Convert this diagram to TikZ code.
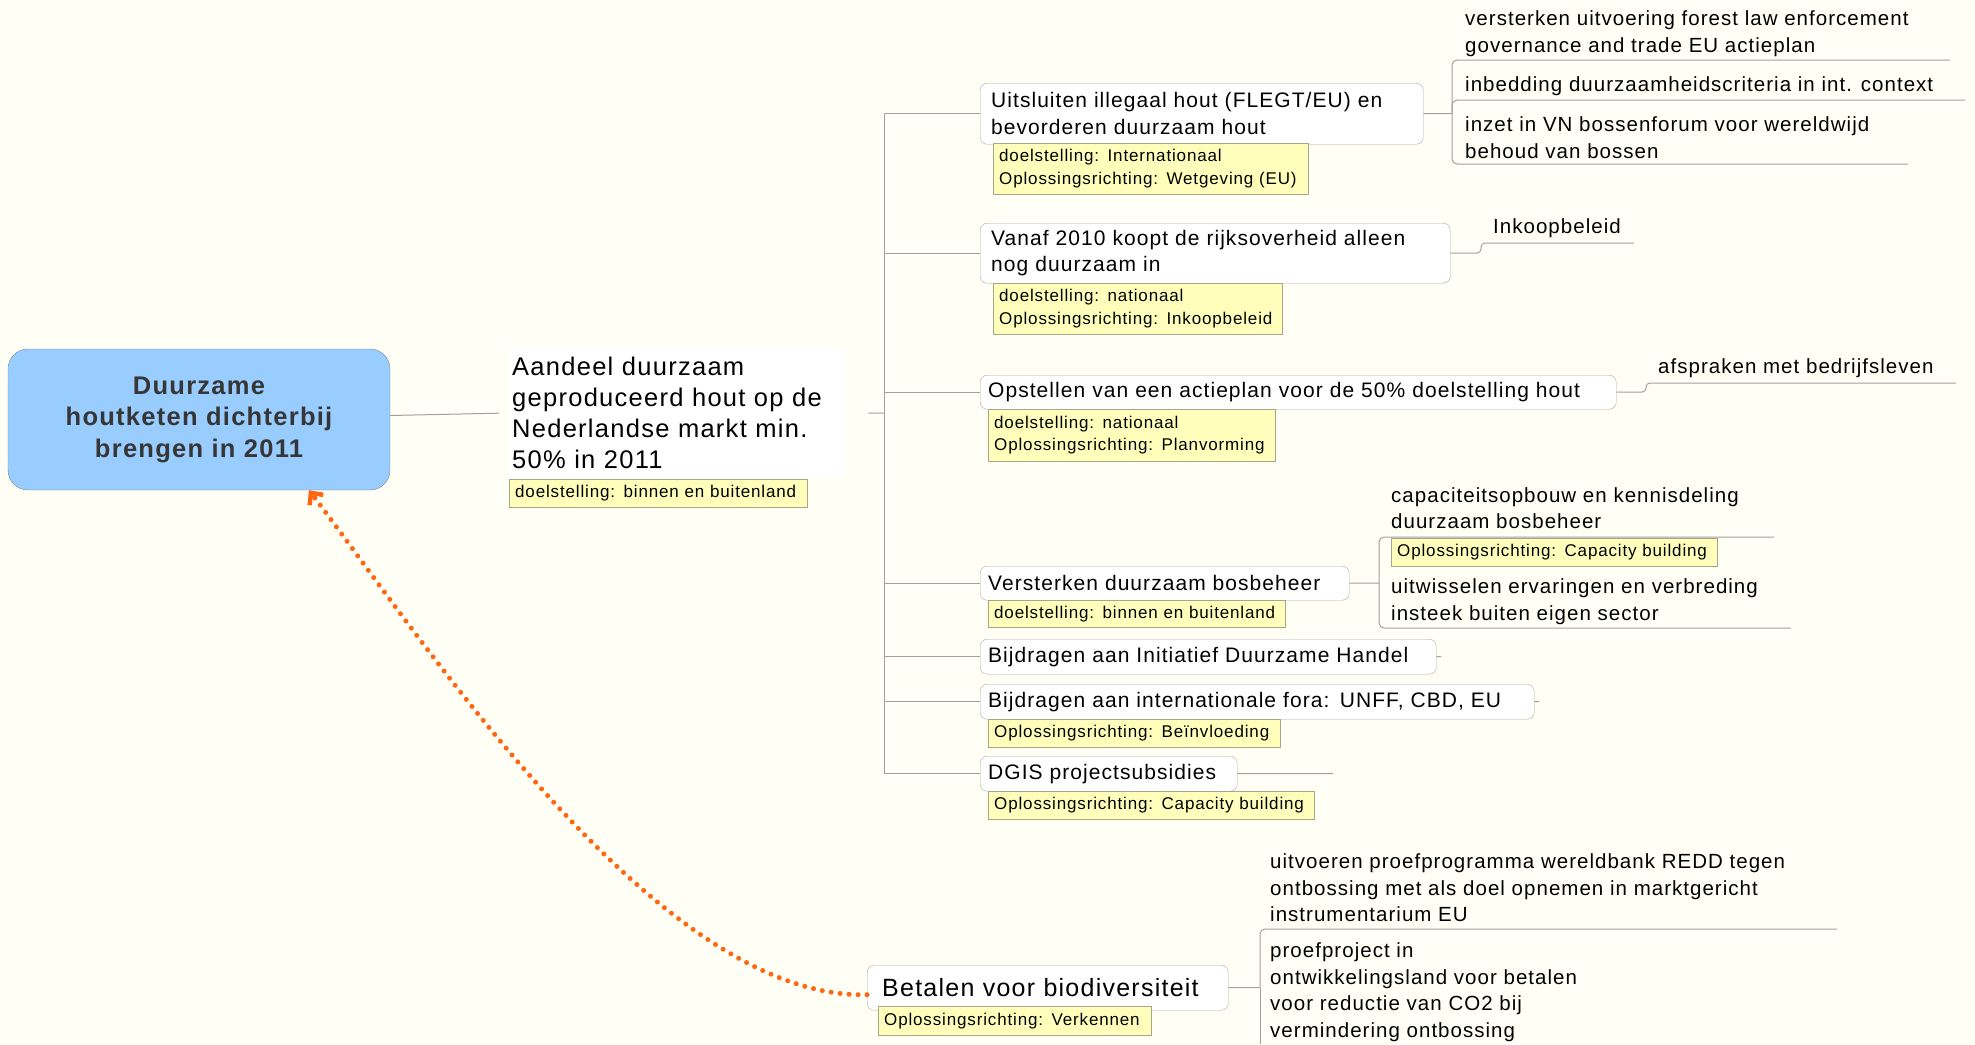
\documentclass[tikz,border=0pt]{standalone}
\usepackage{fontspec}
\setmainfont{Liberation Sans}[LetterSpace=5]
\usetikzlibrary{arrows.meta}
\definecolor{bgc}{HTML}{FFFFF5}
\definecolor{linec}{HTML}{A0A0A0}
\definecolor{boxc}{HTML}{A8A8A8}
\definecolor{notefill}{HTML}{FFFFBB}
\definecolor{notec}{HTML}{A6A68C}
\definecolor{cfill}{HTML}{99CCFF}
\definecolor{cdraw}{HTML}{7A8A9A}
\definecolor{ctext}{HTML}{363636}
\definecolor{arrc}{HTML}{FF6611}
\tikzset{
  conn/.style={draw=linec, line width=1pt},
  brbox/.style={draw=boxc, fill=white, rounded corners=7pt, inner xsep=11pt, inner ysep=0pt,
    anchor=north west, align=left, font=\fontsize{21}{26.5}\selectfont},
  notebox/.style={draw=notec, fill=notefill, inner xsep=6pt, inner ysep=0pt,
    anchor=north west, align=left, font=\fontsize{17}{22.5}\selectfont},
  childtxt/.style={inner sep=0pt, anchor=west, align=left, font=\fontsize{20.5}{26.5}\selectfont},
  centralbox/.style={draw=cdraw, fill=cfill, rounded corners=20pt, align=center, text=ctext,
    font=\fontsize{25.5}{31.5}\selectfont\bfseries, inner sep=0pt},
  dotarrow/.style={draw=arrc, line width=5pt, line cap=round, dash pattern=on 0pt off 9pt,
    -{Straight Barb[length=9pt,width=17pt,line width=4.5pt]}},
}
\begin{document}
\begin{tikzpicture}[x=1pt,y=-1pt]
\fill[bgc] (0,0) rectangle (1975,1044);
\useasboundingbox (0,0) rectangle (1975,1044);

% central
\node[centralbox, minimum width=382, minimum height=141] (c) at (199,419.5)
  {Duurzame\\houtketen dichterbij\\brengen in 2011};

% main subtopic
\node[fill=white, anchor=north west, minimum width=336, minimum height=130, text width=330,
  inner xsep=3pt, inner ysep=0pt, align=left, font=\fontsize{25.5}{31}\selectfont] (a) at (509,348)
  {Aandeel duurzaam\\geproduceerd hout op de\\Nederlandse markt min.\\50\% in 2011};
\node[notebox, minimum width=298, minimum height=28, text width=286] (an) at (509,479)
  {doelstelling: binnen en buitenland};

\coordinate (tj) at (884,413);
\coordinate (ttop) at (884,113.5);
\coordinate (tbot) at (884,773.5);
\draw[conn] ([yshift=4]c.east) -- ([xshift=-10]a.west);
\draw[conn] ([xshift=23]a.east) -- (tj);
\draw[conn] (ttop) -- (tbot);

% branch boxes
\node[brbox, minimum width=443, minimum height=61, text width=421] (u) at (980,83)
  {Uitsluiten illegaal hout (FLEGT/EU) en\\bevorderen duurzaam hout};
\node[brbox, minimum width=470, minimum height=60, text width=448] (v) at (980,223)
  {Vanaf 2010 koopt de rijksoverheid alleen\\nog duurzaam in};
\node[brbox, minimum width=636, minimum height=34, text width=620, inner xsep=8pt] (o) at (980,375)
  {Opstellen van een actieplan voor de 50\% doelstelling hout};
\node[brbox, minimum width=369, minimum height=34, text width=353, inner xsep=8pt] (s) at (980,566)
  {Versterken duurzaam bosbeheer};
\node[brbox, minimum width=456, minimum height=35, text width=440, inner xsep=8pt] (i) at (980,639)
  {Bijdragen aan Initiatief Duurzame Handel};
\node[brbox, minimum width=554, minimum height=35, text width=538, inner xsep=8pt] (f) at (980,684)
  {Bijdragen aan internationale fora: UNFF, CBD, EU};
\node[brbox, minimum width=257, minimum height=35, text width=241, inner xsep=8pt] (d) at (980,756)
  {DGIS projectsubsidies};

\foreach \n in {u,v,o,s,i,f,d} { \draw[conn] (\n.west -| tj) -- (\n.west); }

% notes
\node[notebox, minimum width=315, minimum height=51, text width=303] (un) at (993,143)
  {doelstelling: Internationaal\\Oplossingsrichting: Wetgeving (EU)};
\node[notebox, minimum width=289, minimum height=51, text width=277] (vn) at (993,283)
  {doelstelling: nationaal\\Oplossingsrichting: Inkoopbeleid};
\node[notebox, minimum width=287, minimum height=52, text width=275] (on) at (988,409)
  {doelstelling: nationaal\\Oplossingsrichting: Planvorming};
\node[notebox, minimum width=297, minimum height=27, text width=285] (sn) at (988,600)
  {doelstelling: binnen en buitenland};
\node[notebox, minimum width=292, minimum height=28, text width=280] (fn) at (988,719)
  {Oplossingsrichting: Beïnvloeding};
\node[notebox, minimum width=326, minimum height=28, text width=314] (dn) at (988,791)
  {Oplossingsrichting: Capacity building};

% children of Uitsluiten
\coordinate (uj) at (1452,113.5);
\coordinate (u1e) at (1950,60);
\coordinate (u2e) at (1965,100);
\coordinate (u3e) at (1908,164);
\draw[conn] (u.east) -- (uj);
\draw[conn, rounded corners=5pt] (uj) |- (u1e);
\draw[conn, rounded corners=5pt] (uj) |- (u2e);
\draw[conn, rounded corners=5pt] (uj) |- (u3e);
\node[childtxt] (u1) at (1465,33.5) {versterken uitvoering forest law enforcement\\governance and trade EU actieplan};
\node[childtxt] (u2) at (1465,86) {inbedding duurzaamheidscriteria in int. context};
\node[childtxt] (u3) at (1465,137.5) {inzet in VN bossenforum voor wereldwijd\\behoud van bossen};

% child of Vanaf
\coordinate (vj) at (1481,253);
\coordinate (v1e) at (1634,243);
\draw[conn, rounded corners=4pt] (v.east) -- (vj) |- (v1e);
\node[childtxt] (v1) at (1493,228) {Inkoopbeleid};

% child of Opstellen
\coordinate (oj) at (1646,392);
\coordinate (o1e) at (1956,383);
\draw[conn, rounded corners=4pt] (o.east) -- (oj) |- (o1e);
\node[childtxt] (o1) at (1658,368) {afspraken met bedrijfsleven};

% children of Versterken
\coordinate (sj) at (1379,583);
\coordinate (s1e) at (1774,537);
\coordinate (s2e) at (1791,628);
\draw[conn] (s.east) -- (sj);
\draw[conn, rounded corners=5pt] (sj) |- (s1e);
\draw[conn, rounded corners=5pt] (sj) |- (s2e);
\node[childtxt] (s1) at (1391,508) {capaciteitsopbouw en kennisdeling\\duurzaam bosbeheer};
\node[notebox, minimum width=326, minimum height=28, text width=314] (s1n) at (1391,538)
  {Oplossingsrichting: Capacity building};
\node[childtxt] (s2) at (1391,601.5) {uitwisselen ervaringen en verbreding\\insteek buiten eigen sector};

% stubs
\coordinate (ie) at (1441,656.5);
\coordinate (fe) at (1539,701.5);
\coordinate (de) at (1333,773.5);
\draw[conn] (i.east) -- (ie);
\draw[conn] (f.east) -- (fe);
\draw[conn] (d.east) -- (de);

% Betalen voor biodiversiteit
\node[brbox, minimum width=361, minimum height=45, text width=331, inner xsep=15pt,
  font=\fontsize{25}{30}\selectfont] (b) at (867,965) {Betalen voor biodiversiteit};
\node[notebox, minimum width=273, minimum height=29, text width=261] (bn) at (878,1006)
  {Oplossingsrichting: Verkennen};
\coordinate (bj) at (1260,987.5);
\coordinate (b1e) at (1837,929);
\coordinate (b2e) at (1260,1044);
\draw[conn] (b.east) -- (bj);
\draw[conn, rounded corners=5pt] (bj) |- (b1e);
\draw[conn] (bj) -- (b2e);
\node[childtxt] (b1) at (1270,888) {uitvoeren proefprogramma wereldbank REDD tegen\\ontbossing met als doel opnemen in marktgericht\\instrumentarium EU};
\node[childtxt] (b2) at (1270,992) {proefproject in\\ontwikkelingsland voor betalen\\voor reductie van CO2 bij\\vermindering ontbossing};

% dotted relationship arrow
\draw[dotarrow] ([yshift=-7]b.west) .. controls (660,1000) and (430,650) .. ([xshift=110]c.south);
\end{tikzpicture}
\end{document}
